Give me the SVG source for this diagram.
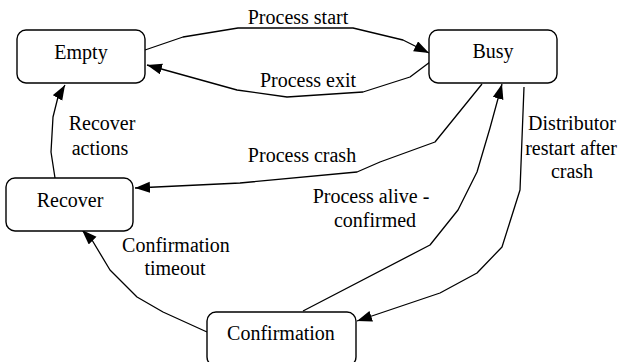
<svg xmlns="http://www.w3.org/2000/svg" width="620" height="362" viewBox="0 0 620 362">
<defs>
<marker id="arr" markerUnits="userSpaceOnUse" markerWidth="16" markerHeight="12" refX="15" refY="5.5" orient="auto">
<path d="M0,0 L15,5.5 L0,11 z" fill="#000"/>
</marker>
<style>
.box{fill:#fff;stroke:#000;stroke-width:1.4}
.edge{fill:none;stroke:#000;stroke-width:1.3;stroke-linejoin:round}
.arrow{marker-end:url(#arr)}
text{font-family:"Liberation Serif","DejaVu Serif","Times New Roman",serif;font-size:20px;fill:#000;text-anchor:middle}
</style>
</defs>
<rect width="620" height="362" fill="#fff"/>
<g id="connectors">
<polyline class="edge arrow" points="145,50 183,37 238,28 353,28 403,40 429,53"/>
<polyline class="edge arrow" points="430,62 410,77 363,92 287,97 237,90 147,65"/>
<polyline class="edge arrow" points="482,84 435,142 380,162 357,172 240,183 135,188"/>
<polyline class="edge arrow" points="303,311 430,245 458,210 477,172 490,128 502,84"/>
<polyline class="edge arrow" points="524,87 520,190 502,247 477,273 440,293 357,321"/>
<polyline class="edge arrow" points="55,178 51,152 53,117 58,97 65,85"/>
<polyline class="edge arrow" points="207,332 163,312 137,297 110,270 92,240 82,230"/>
<text x="298" y="24">Process start</text>
<text x="308" y="87">Process exit</text>
<text x="302" y="162">Process crash</text>
<text x="371" y="203">Process alive -</text>
<text x="375" y="227">confirmed</text>
<text x="572" y="130">Distributor</text>
<text x="571" y="155">restart after</text>
<text x="572" y="178">crash</text>
<text x="102" y="130">Recover</text>
<text x="100" y="155">actions</text>
<text x="176" y="252">Confirmation</text>
<text x="175" y="275">timeout</text>
</g>
<g id="node-empty">
<rect class="box" x="17" y="30" width="128" height="53" rx="9"/>
<text x="81" y="59">Empty</text>
</g>
<g id="node-busy">
<rect class="box" x="429" y="30" width="128" height="53" rx="9"/>
<text x="493" y="58">Busy</text>
</g>
<g id="node-recover">
<rect class="box" x="6" y="178" width="127" height="53" rx="9"/>
<text x="70" y="207">Recover</text>
</g>
<g id="node-confirmation">
<rect class="box" x="207" y="312" width="149" height="54" rx="9"/>
<text x="281" y="340">Confirmation</text>
</g>
</svg>
